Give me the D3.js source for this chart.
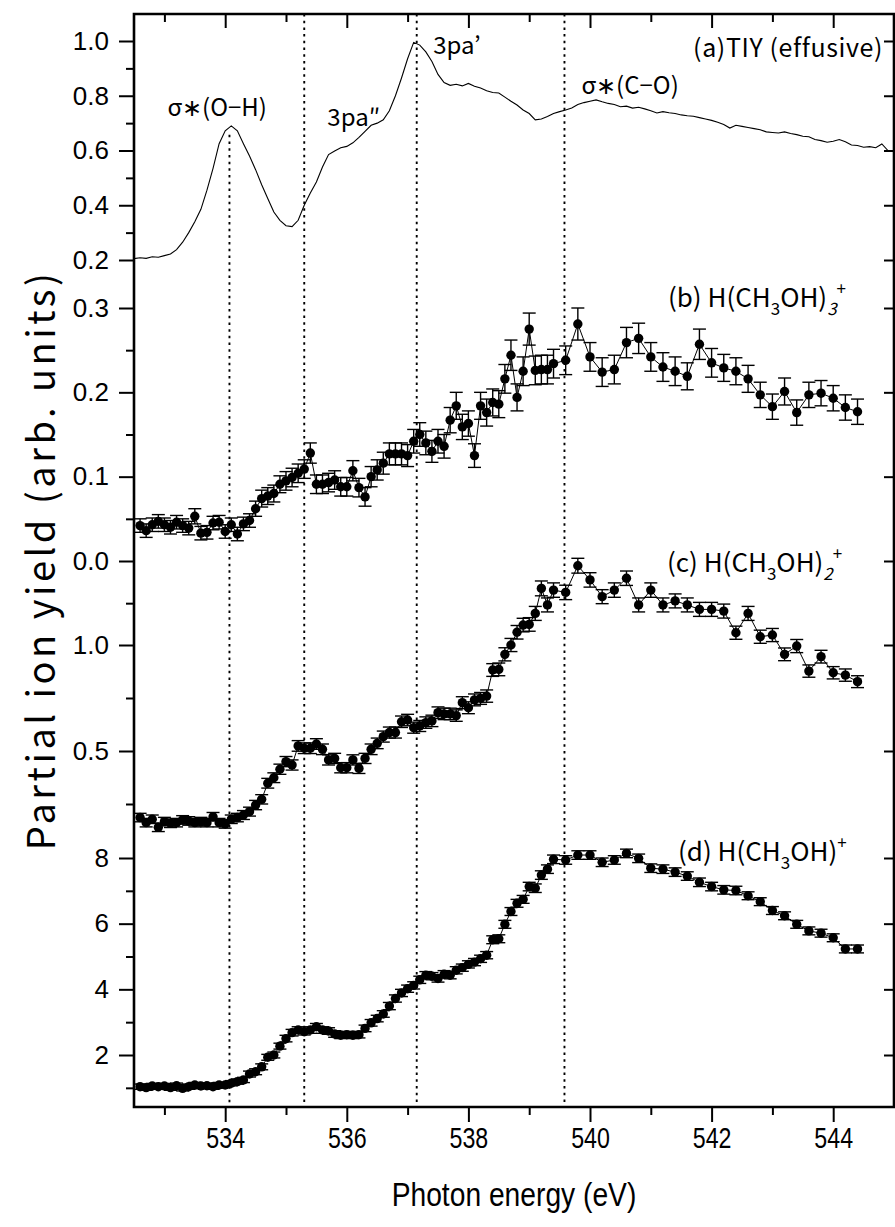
<!DOCTYPE html>
<html><head><meta charset="utf-8">
<script src="https://cdn.jsdelivr.net/npm/d3@7"></script>
<style>
body{margin:0;background:#fff}
text{fill:#000}
</style>
</head><body>
<svg id="chart" width="895" height="1227"></svg>
<script>
// ---------- data ----------
const tiyEnergy = [532.5,532.6,532.7,532.8,532.9,533.0,533.1,533.2,533.3,533.4,533.5,533.6,533.7,533.8,533.9,534.0,534.1,534.2,534.3,534.4,534.5,534.6,534.7,534.8,534.9,535.0,535.1,535.2,535.3,535.4,535.5,535.6,535.7,535.8,535.9,536.0,536.1,536.2,536.3,536.4,536.5,536.6,536.7,536.8,536.9,537.0,537.1,537.2,537.3,537.4,537.5,537.6,537.7,537.8,537.9,538.0,538.1,538.2,538.3,538.4,538.5,538.6,538.7,538.8,538.9,539.0,539.1,539.2,539.3,539.4,539.5,539.6,539.7,539.8,539.9,540.0,540.1,540.2,540.3,540.4,540.5,540.6,540.7,540.8,540.9,541.0,541.1,541.2,541.3,541.4,541.5,541.6,541.7,541.8,541.9,542.0,542.1,542.2,542.3,542.4,542.5,542.6,542.7,542.8,542.9,543.0,543.1,543.2,543.3,543.4,543.5,543.6,543.7,543.8,543.9,544.0,544.1,544.2,544.3,544.4,544.5,544.6,544.7,544.8,544.9,545.0];
const tiyValue = [0.205,0.208,0.206,0.212,0.210,0.216,0.222,0.238,0.265,0.300,0.340,0.385,0.455,0.535,0.625,0.672,0.690,0.672,0.625,0.580,0.530,0.475,0.425,0.375,0.345,0.325,0.322,0.345,0.400,0.445,0.485,0.540,0.585,0.598,0.610,0.615,0.628,0.648,0.670,0.692,0.700,0.712,0.745,0.800,0.865,0.935,0.995,0.985,0.960,0.925,0.878,0.848,0.838,0.842,0.836,0.845,0.835,0.828,0.818,0.812,0.810,0.795,0.780,0.766,0.748,0.735,0.712,0.715,0.724,0.735,0.742,0.748,0.755,0.768,0.775,0.780,0.785,0.778,0.772,0.768,0.760,0.762,0.755,0.758,0.752,0.745,0.737,0.742,0.738,0.735,0.730,0.727,0.725,0.720,0.715,0.710,0.703,0.695,0.682,0.692,0.688,0.684,0.680,0.676,0.668,0.666,0.664,0.668,0.662,0.658,0.652,0.650,0.640,0.636,0.630,0.634,0.640,0.632,0.620,0.618,0.612,0.614,0.610,0.624,0.600,0.598];

const ionEnergy = [532.6,532.7,532.8,532.9,533.0,533.1,533.2,533.3,533.4,533.5,533.6,533.7,533.8,533.9,534.0,534.1,534.2,534.3,534.4,534.5,534.6,534.7,534.8,534.9,535.0,535.1,535.2,535.3,535.4,535.5,535.6,535.7,535.8,535.9,536.0,536.1,536.2,536.3,536.4,536.5,536.6,536.7,536.8,536.9,537.0,537.1,537.2,537.3,537.4,537.5,537.6,537.7,537.8,537.9,538.0,538.1,538.2,538.3,538.4,538.5,538.6,538.7,538.8,538.9,539.0,539.1,539.2,539.3,539.4,539.6,539.8,540.0,540.2,540.4,540.6,540.8,541.0,541.2,541.4,541.6,541.8,542.0,542.2,542.4,542.6,542.8,543.0,543.2,543.4,543.6,543.8,544.0,544.2,544.4];

const trimerValue = [0.042,0.036,0.043,0.047,0.043,0.040,0.046,0.042,0.039,0.053,0.033,0.034,0.045,0.046,0.035,0.043,0.032,0.044,0.048,0.062,0.074,0.077,0.080,0.091,0.095,0.099,0.104,0.109,0.128,0.091,0.091,0.093,0.096,0.088,0.088,0.107,0.087,0.076,0.100,0.108,0.116,0.127,0.127,0.127,0.125,0.142,0.150,0.140,0.130,0.142,0.136,0.167,0.184,0.159,0.163,0.125,0.184,0.176,0.188,0.186,0.216,0.244,0.194,0.225,0.275,0.226,0.227,0.227,0.234,0.238,0.281,0.242,0.224,0.227,0.259,0.264,0.242,0.230,0.225,0.219,0.257,0.235,0.229,0.225,0.216,0.197,0.183,0.201,0.176,0.197,0.199,0.193,0.182,0.177];
const trimerError = [0.008,0.008,0.008,0.008,0.008,0.008,0.008,0.008,0.008,0.009,0.008,0.008,0.008,0.008,0.008,0.008,0.008,0.008,0.008,0.009,0.010,0.010,0.010,0.010,0.011,0.011,0.011,0.011,0.012,0.011,0.011,0.011,0.011,0.011,0.011,0.012,0.011,0.011,0.012,0.012,0.013,0.013,0.013,0.013,0.013,0.014,0.014,0.014,0.013,0.014,0.014,0.015,0.016,0.015,0.015,0.014,0.016,0.016,0.016,0.016,0.017,0.018,0.016,0.017,0.019,0.017,0.017,0.017,0.017,0.017,0.019,0.017,0.017,0.017,0.018,0.018,0.017,0.017,0.017,0.016,0.018,0.017,0.016,0.016,0.016,0.015,0.015,0.016,0.015,0.015,0.015,0.015,0.015,0.015];

const dimerValue = [0.186,0.162,0.178,0.140,0.167,0.159,0.162,0.175,0.170,0.162,0.167,0.162,0.190,0.162,0.156,0.178,0.186,0.198,0.214,0.245,0.272,0.348,0.374,0.414,0.450,0.434,0.524,0.513,0.513,0.533,0.508,0.458,0.465,0.421,0.421,0.458,0.418,0.465,0.508,0.536,0.568,0.587,0.587,0.638,0.646,0.610,0.618,0.634,0.642,0.681,0.675,0.675,0.667,0.728,0.704,0.741,0.748,0.759,0.882,0.885,0.956,1.000,1.060,1.094,1.097,1.149,1.267,1.189,1.259,1.248,1.374,1.307,1.228,1.259,1.315,1.189,1.259,1.189,1.208,1.189,1.168,1.168,1.160,1.058,1.149,1.039,1.047,0.956,0.995,0.877,0.945,0.869,0.858,0.827];
const dimerError = [0.020,0.020,0.020,0.020,0.020,0.020,0.020,0.020,0.020,0.020,0.020,0.020,0.020,0.020,0.020,0.020,0.020,0.021,0.021,0.022,0.022,0.023,0.023,0.024,0.024,0.024,0.025,0.025,0.025,0.025,0.025,0.024,0.024,0.024,0.024,0.024,0.024,0.024,0.025,0.025,0.026,0.026,0.026,0.027,0.027,0.026,0.026,0.027,0.027,0.027,0.027,0.027,0.027,0.028,0.028,0.028,0.028,0.029,0.030,0.030,0.031,0.031,0.032,0.032,0.032,0.033,0.035,0.033,0.034,0.034,0.035,0.034,0.033,0.034,0.034,0.033,0.034,0.033,0.033,0.033,0.033,0.033,0.033,0.031,0.033,0.031,0.031,0.030,0.031,0.029,0.030,0.029,0.029,0.028];

const monomerValue = [1.035,1.005,1.055,1.035,1.055,1.005,1.065,0.985,1.035,1.085,1.055,1.065,1.035,1.085,1.085,1.14,1.19,1.24,1.42,1.49,1.64,1.93,2.00,2.27,2.50,2.68,2.76,2.71,2.76,2.86,2.76,2.73,2.64,2.60,2.62,2.60,2.62,2.81,2.98,3.11,3.25,3.49,3.72,3.89,4.02,4.12,4.29,4.43,4.40,4.33,4.46,4.43,4.58,4.66,4.76,4.83,4.93,5.04,5.51,5.54,5.98,6.37,6.62,6.74,7.13,7.08,7.48,7.66,7.96,7.94,8.09,8.09,7.87,7.94,8.14,7.99,7.69,7.66,7.57,7.45,7.26,7.13,7.03,7.01,6.85,6.67,6.40,6.24,5.98,5.78,5.71,5.57,5.23,5.23];
const monomerError = [0.08,0.08,0.08,0.08,0.08,0.08,0.08,0.08,0.08,0.08,0.08,0.08,0.08,0.08,0.08,0.08,0.08,0.08,0.09,0.09,0.09,0.09,0.09,0.09,0.10,0.10,0.10,0.10,0.10,0.10,0.10,0.10,0.10,0.10,0.10,0.10,0.10,0.10,0.10,0.10,0.10,0.11,0.11,0.11,0.11,0.11,0.11,0.11,0.11,0.11,0.11,0.11,0.11,0.11,0.11,0.11,0.11,0.11,0.12,0.12,0.12,0.12,0.12,0.12,0.13,0.13,0.13,0.13,0.13,0.13,0.13,0.13,0.13,0.13,0.13,0.13,0.13,0.13,0.13,0.13,0.13,0.13,0.13,0.13,0.12,0.12,0.12,0.12,0.12,0.12,0.12,0.12,0.12,0.12];

const xMajorTicks = [534,536,538,540,542,544];
const xMinorTicks = [533,535,537,539,541,543];
const panelA = {major:[0.2,0.4,0.6,0.8,1.0], minor:[0.3,0.5,0.7,0.9], fmt:"0.1f"};
const panelB = {major:[0.0,0.1,0.2,0.3], minor:[-0.05,0.05,0.15,0.25], fmt:"0.1f"};
const panelC = {major:[0.5,1.0], minor:[0.25,0.75], fmt:"0.1f"};
const panelD = {major:[2,4,6,8], minor:[1,3,5,7], fmt:"d"};
const featureEnergy = [534.07, 535.3, 537.15, 539.58];

// ---------- layout ----------
const svg = d3.select("#chart");
const L = 134, R = 894, T = 14, B = 1107;
const x = d3.scaleLinear().domain([532.5, 545]).range([L, R]);
const yA = d3.scaleLinear().domain([0.2, 1.0]).range([260, 41]);
const yB = d3.scaleLinear().domain([0.0, 0.3]).range([561, 308]);
const yC = d3.scaleLinear().domain([0.5, 1.0]).range([751, 645]);
const yD = d3.scaleLinear().domain([2, 8]).range([1055, 858]);

const gothic = "'Noto Sans CJK JP', 'Noto Sans', sans-serif";
const sans = "'Liberation Sans', Arial, sans-serif";

// vertical dotted feature lines
featureEnergy.forEach((e, i) => {
  const y0 = i === 0 ? yA(d3.max(tiyValue.slice(14, 19))) + 9 : T;
  svg.append("line").attr("x1", x(e)).attr("x2", x(e)).attr("y1", y0).attr("y2", B)
    .attr("stroke", "#000").attr("stroke-width", 1.9).attr("stroke-dasharray", "2.5,4.2");
});

// TIY line
svg.append("path").datum(tiyEnergy.map((e, i) => [e, tiyValue[i]]))
  .attr("fill", "none").attr("stroke", "#000").attr("stroke-width", 1.1)
  .attr("d", d3.line().x(d => x(d[0])).y(d => yA(d[1])));

// ion series
function series(vals, errs, ys) {
  const data = ionEnergy.map((e, i) => ({e, v: vals[i], s: errs[i]}));
  const g = svg.append("g");
  g.append("path").datum(data).attr("fill", "none").attr("stroke", "#000").attr("stroke-width", 1)
    .attr("d", d3.line().x(d => x(d.e)).y(d => ys(d.v)));
  const eb = g.selectAll("g.eb").data(data).join("g").attr("stroke", "#000").attr("stroke-width", 1.4);
  eb.append("line").attr("x1", d => x(d.e)).attr("x2", d => x(d.e))
    .attr("y1", d => ys(d.v - d.s)).attr("y2", d => ys(d.v + d.s));
  eb.append("line").attr("x1", d => x(d.e) - 6.5).attr("x2", d => x(d.e) + 6.5)
    .attr("y1", d => ys(d.v + d.s)).attr("y2", d => ys(d.v + d.s));
  eb.append("line").attr("x1", d => x(d.e) - 6.5).attr("x2", d => x(d.e) + 6.5)
    .attr("y1", d => ys(d.v - d.s)).attr("y2", d => ys(d.v - d.s));
  g.selectAll("circle").data(data).join("circle")
    .attr("cx", d => x(d.e)).attr("cy", d => ys(d.v)).attr("r", 4.7).attr("fill", "#000");
}
series(trimerValue, trimerError, yB);
series(dimerValue, dimerError, yC);
series(monomerValue, monomerError, yD);

// ---------- axes ----------
function styleAxis(g) {
  g.select(".domain").remove();
  g.selectAll(".tick line").attr("stroke", "#000").attr("stroke-width", 2);
  g.selectAll(".tick text").attr("fill", "#000");
}
function leftAxes(p, ys) {
  svg.append("g").attr("transform", `translate(${L},0)`)
    .call(d3.axisLeft(ys).tickValues(p.major).tickSize(15).tickPadding(10).tickFormat(d3.format(p.fmt)))
    .call(styleAxis)
    .call(g => g.selectAll(".tick text").attr("font-size", 26).attr("font-family", sans));
  svg.append("g").attr("transform", `translate(${L},0)`)
    .call(d3.axisLeft(ys).tickValues(p.minor).tickSize(8).tickFormat(""))
    .call(styleAxis);
  svg.append("g").attr("transform", `translate(${R},0)`)
    .call(d3.axisLeft(ys).tickValues(p.major).tickSize(10).tickFormat(""))
    .call(styleAxis);
}
leftAxes(panelA, yA);
leftAxes(panelB, yB);
leftAxes(panelC, yC);
leftAxes(panelD, yD);

svg.append("g").attr("transform", `translate(0,${B})`)
  .call(d3.axisBottom(x).tickValues(xMajorTicks).tickSize(15).tickPadding(5).tickFormat(d3.format("d")))
  .call(styleAxis)
  .call(g => g.selectAll(".tick text").attr("font-size", 29).attr("font-family", sans)
    .attr("transform", "scale(0.8,1)"));
svg.append("g").attr("transform", `translate(0,${B})`)
  .call(d3.axisBottom(x).tickValues(xMinorTicks).tickSize(8).tickFormat("")).call(styleAxis);
svg.append("g").attr("transform", `translate(0,${T})`)
  .call(d3.axisBottom(x).tickValues(xMajorTicks).tickSize(14).tickFormat("")).call(styleAxis);
svg.append("g").attr("transform", `translate(0,${T})`)
  .call(d3.axisBottom(x).tickValues(xMinorTicks).tickSize(8).tickFormat("")).call(styleAxis);

// frame
svg.append("path").attr("d", `M${L},${T}H${R}V${B}H${L}Z`).attr("fill", "none")
  .attr("stroke", "#000").attr("stroke-width", 2.6);

// axis titles
svg.append("text").attr("transform", "translate(514,1206) scale(0.83,1)").attr("text-anchor", "middle")
  .attr("font-size", 34).attr("font-family", sans)
  .text("Photon energy (eV)");
svg.append("text").attr("transform", `translate(55,560) rotate(-90)`).attr("text-anchor", "middle")
  .attr("font-size", 38).attr("letter-spacing", 3.5).attr("font-family", gothic)
  .text("Partial ion yield (arb. units)");

// annotations
const ann = [
  {t: "σ∗(O−H)", e: 533.05, y: 116},
  {t: "3pa″", e: 535.68, y: 126},
  {t: "3pa’", e: 537.42, y: 54},
  {t: "σ∗(C−O)", e: 539.86, y: 94}
];
ann.forEach(a => svg.append("text").attr("x", x(a.e)).attr("y", a.y)
  .attr("font-size", 24).attr("font-family", gothic).text(a.t));
svg.append("text").attr("x", 883).attr("y", 57).attr("text-anchor", "end").attr("font-size", 25)
  .attr("font-family", gothic).attr("letter-spacing", 0.6).text("(a)TIY (effusive)");

function ionLabel(xp, yp, parts) {
  const t = svg.append("text").attr("x", xp).attr("y", yp).attr("font-size", 26).attr("font-family", gothic);
  let shift = 0;
  parts.forEach(p => {
    const target = p.sub ? 8 : p.sup ? -12 : 0;
    const ts = t.append("tspan").attr("dy", target - shift).text(p.s);
    if (p.sub || p.sup) ts.attr("font-size", 17);
    if (p.it) ts.attr("font-style", "italic");
    shift = target;
  });
}
ionLabel(668, 307, [{s: "(b) H(CH"}, {s: "3", sub: 1}, {s: "OH)"}, {s: "3", sub: 1, it: 1}, {s: "+", sup: 1}]);
ionLabel(667, 572, [{s: "(c) H(CH"}, {s: "3", sub: 1}, {s: "OH)"}, {s: "2", sub: 1, it: 1}, {s: "+", sup: 1}]);
ionLabel(678, 861, [{s: "(d) H(CH"}, {s: "3", sub: 1}, {s: "OH)"}, {s: "+", sup: 1}]);
</script>
</body></html>
